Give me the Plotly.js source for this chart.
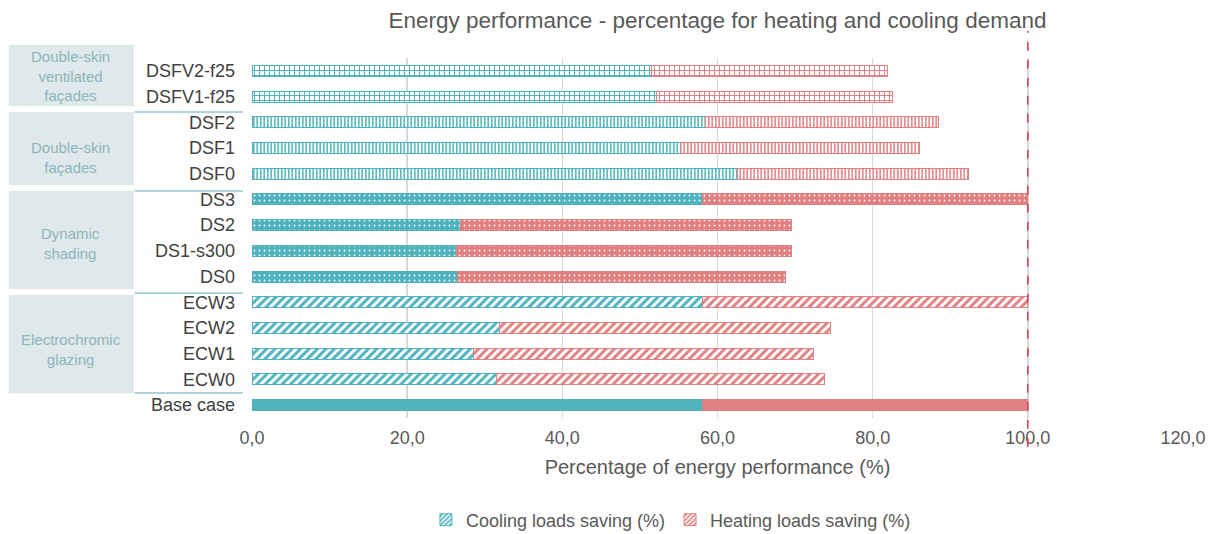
<!DOCTYPE html>
<html>
<head>
<meta charset="utf-8">
<script src="https://cdn.plot.ly/plotly-3.0.1.min.js"></script>
<style>html,body{margin:0;padding:0;background:#fff;}#chart{width:1214px;height:534px;}</style>
</head>
<body>
<div id="chart"></div>
<script>
// Categories, top to bottom as shown
const categories = ["DSFV2-f25","DSFV1-f25","DSF2","DSF1","DSF0","DS3","DS2","DS1-s300","DS0","ECW3","ECW2","ECW1","ECW0","Base case"];
const coolingSaving = [51.5,52.2,58.5,55.2,62.6,58.1,26.9,26.4,26.5,58.1,31.9,28.5,31.5,58.1];
const heatingSaving = [30.4,30.4,30.0,30.8,29.7,41.9,42.6,43.2,42.3,41.9,42.6,43.9,42.3,41.9];
const patternShapes = ["+","+","|","|","|",".",".",".",".","/","/","/","/",""];
const groupLabels = ["Double-skin<br>ventilated<br>façades","Double-skin<br>façades","Dynamic<br>shading","Electrochromic<br>glazing"];
const xTickVals = [0,20,40,60,80,100,120];
const xTickText = ["0,0","20,0","40,0","60,0","80,0","100,0","120,0"];
const referenceLine = 100;

const TEAL = "#4fb3bd";
const PINK = "#e08080";
const FONT = "Liberation Sans, Arial, sans-serif";

function patternFor(color){
  return {
    shape: patternShapes,
    fgcolor: patternShapes.map(s => s === "." ? "#ffffff" : color),
    bgcolor: patternShapes.map(s => s === "." ? color : "#ffffff"),
    size: patternShapes.map(s => s === "+" ? 5 : (s === "|" ? 3.5 : (s === "." ? 5 : 6))),
    solidity: patternShapes.map(s => s === "+" ? 0.35 : (s === "|" ? 0.45 : (s === "." ? 0.1 : 0.5))),
    fillmode: "replace"
  };
}

const traces = [
  {type:"bar", orientation:"h", y:categories, x:coolingSaving, name:"Cooling loads saving (%)", showlegend:false,
   marker:{color:TEAL, line:{color:TEAL, width:1}, pattern:patternFor(TEAL)}, hoverinfo:"x+y"},
  {type:"bar", orientation:"h", y:categories, x:heatingSaving, name:"Heating loads saving (%)", showlegend:false,
   marker:{color:PINK, line:{color:PINK, width:1}, pattern:patternFor(PINK)}, hoverinfo:"x+y"},
  {type:"bar", orientation:"h", y:[null], x:[null], name:"Cooling loads saving (%)", showlegend:true,
   marker:{color:TEAL, line:{color:TEAL, width:1}, pattern:{shape:"/", fgcolor:TEAL, bgcolor:"#ffffff", size:4, solidity:0.5}}},
  {type:"bar", orientation:"h", y:[null], x:[null], name:"Heating loads saving (%)", showlegend:true,
   marker:{color:PINK, line:{color:PINK, width:1}, pattern:{shape:"/", fgcolor:PINK, bgcolor:"#ffffff", size:4, solidity:0.5}}}
];

// group boxes (paper coords)
const boxes = [[1.036,0.866],[0.850,0.647],[0.631,0.358],[0.342,0.069]];
const labelY = [0.95,0.725,0.485,0.189];
const sepY = [0.85,0.6306,0.347,0.0694];

const shapes = [];
boxes.forEach(b => shapes.push({type:"rect", xref:"paper", yref:"paper", x0:-0.2613, x1:-0.1268, y0:b[1], y1:b[0], fillcolor:"#dfe9ec", line:{width:0}, layer:"below"}));
sepY.forEach(y => shapes.push({type:"line", xref:"paper", yref:"paper", x0:-0.126, x1:-0.0097, y0:y, y1:y, line:{color:"#5aa9b6", width:1}}));
shapes.push({type:"line", xref:"x", yref:"paper", x0:referenceLine, x1:referenceLine, y0:-0.08, y1:1.075, line:{color:"#d23c4e", width:1.5, dash:"dash"}});

const annotations = groupLabels.map((t,i) => ({text:t, xref:"paper", yref:"paper", x:-0.1946, y:labelY[i], showarrow:false, xanchor:"center", yanchor:"middle", align:"center", font:{family:FONT, size:15, color:"#8db5bd"}}));

const layout = {
  width:1214, height:534,
  margin:{l:252, r:31, t:58, b:116},
  paper_bgcolor:"#ffffff", plot_bgcolor:"#ffffff",
  barmode:"stack", bargap:0.57,
  font:{family:FONT, color:"#595959"},
  title:{text:"Energy performance - percentage for heating and cooling demand", font:{family:FONT, size:22.5, color:"#595959"}, x:0.5, xref:"paper", xanchor:"center", y:1-20/534, yref:"container", yanchor:"middle"},
  xaxis:{range:[0,120], tickvals:xTickVals, ticktext:xTickText, showgrid:true, gridcolor:"#d9d9d9", gridwidth:1.5, zeroline:false, showline:false, ticks:"", ticklabelstandoff:7, automargin:false, tickfont:{family:FONT, size:18, color:"#595959"},
         title:{text:"Percentage of energy performance (%)", font:{family:FONT, size:20, color:"#595959"}, standoff:12}},
  yaxis:{type:"category", categoryorder:"array", categoryarray:categories, autorange:"reversed", automargin:false, showgrid:false, zeroline:false, showline:false, ticks:"", ticklabelstandoff:16, tickfont:{family:FONT, size:18, color:"#404040"}},
  legend:{orientation:"h", x:0.45, xanchor:"center", yref:"container", y:1-520/534, yanchor:"middle", font:{family:FONT, size:18, color:"#595959"}, itemwidth:30, tracegroupgap:0, traceorder:"normal"},
  shapes:shapes, annotations:annotations, showlegend:true
};

Plotly.newPlot("chart", traces, layout, {staticPlot:true, displayModeBar:false});
</script>
</body>
</html>
